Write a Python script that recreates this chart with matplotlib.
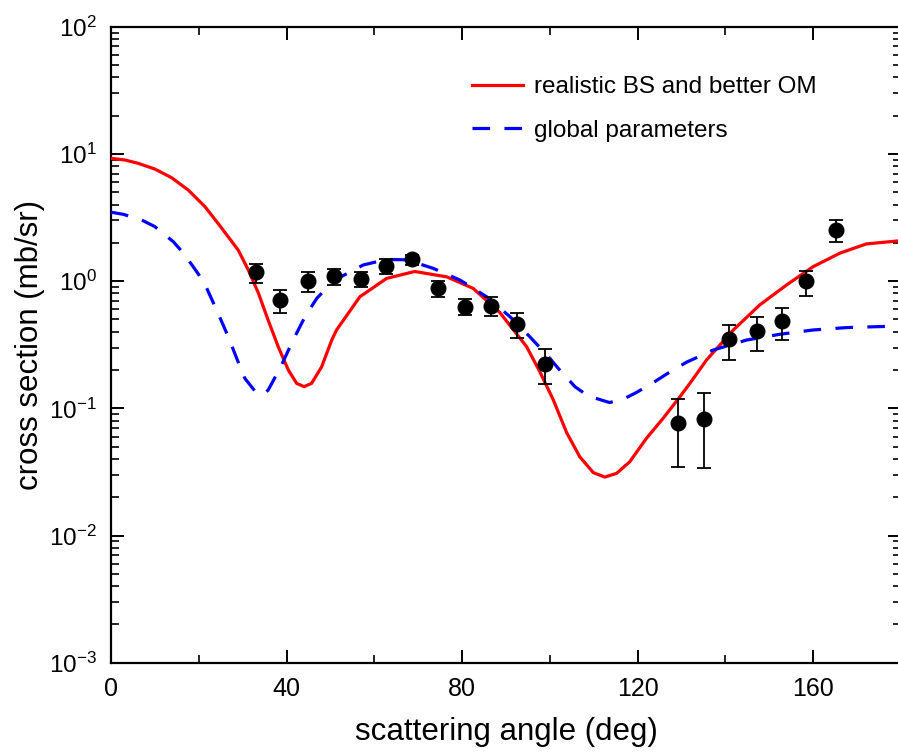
import matplotlib
matplotlib.use("Agg")
import matplotlib.pyplot as plt
from matplotlib.ticker import LogLocator, MultipleLocator, LogFormatterMathtext, NullFormatter
import numpy as np

plt.rcParams['font.family'] = ['Liberation Sans', 'DejaVu Sans']
plt.rcParams['mathtext.default'] = 'regular'

# Calculation: realistic bound state + improved optical model
red_angle = [0, 3.2, 6.2, 10.0, 13.8, 17.6, 21.4, 24.4, 26.7, 29.0, 31.3, 33.6,
             35.8, 38.1, 40.4, 42.3, 44.0, 45.7, 48.0, 50.3, 51.4, 56.7, 62.8,
             69.2, 76.5, 82.5, 88.6, 94.7, 97.7, 100.8, 103.8, 106.8, 109.9,
             112.5, 115.2, 118.2, 122.0, 125.8, 129.6, 131.9, 135.7, 141.8,
             147.8, 153.9, 160.0, 166.1, 172.1, 180.0]
red_xs = [9.23, 8.95, 8.43, 7.60, 6.50, 5.20, 3.85, 2.84, 2.23, 1.75, 1.22,
          0.802, 0.494, 0.305, 0.200, 0.157, 0.148, 0.157, 0.212, 0.344, 0.413,
          0.753, 1.05, 1.19, 1.08, 0.877, 0.566, 0.305, 0.194, 0.116, 0.0646,
          0.0416, 0.0312, 0.0288, 0.0308, 0.0380, 0.0581, 0.0834, 0.123, 0.157,
          0.240, 0.413, 0.649, 0.931, 1.30, 1.66, 1.96, 2.08]

# Calculation: global parameters
blue_angle = [0, 2.8, 7.0, 10.0, 14.2, 16.5, 19.5, 21.3, 24.4, 26.7, 27.9, 29.4,
              30.5, 33.2, 34.7, 35.8, 38.5, 41.5, 44.2, 46.9, 48.7, 51.0, 57.5,
              62.8, 67.4, 73.4, 79.5, 85.6, 90.9, 95.4, 100.0, 101.9, 105.7,
              108.7, 113.6, 116.7, 119.7, 123.9, 126.6, 131.1, 137.2, 144.8,
              152.4, 160.0, 167.6, 175.2, 180.0]
blue_xs = [3.48, 3.35, 3.02, 2.68, 2.04, 1.66, 1.19, 0.962, 0.558, 0.366, 0.287,
           0.212, 0.172, 0.131, 0.129, 0.139, 0.206, 0.344, 0.525, 0.733, 0.851,
           1.02, 1.34, 1.48, 1.47, 1.26, 1.02, 0.753, 0.525, 0.366, 0.247,
           0.206, 0.148, 0.125, 0.111, 0.118, 0.133, 0.162, 0.186, 0.230,
           0.287, 0.344, 0.382, 0.413, 0.431, 0.439, 0.442]

# Measured cross sections with error bar limits
exp_angle = [33.0, 38.5, 44.9, 50.9, 56.9, 62.6, 68.6, 74.5, 80.6, 86.5, 92.4,
             98.9, 129.2, 135.2, 140.8, 147.1, 152.8, 158.4, 165.1]
exp_xs = [1.17, 0.706, 1.007, 1.09, 1.04, 1.31, 1.49, 0.878, 0.63, 0.64, 0.457,
          0.222, 0.077, 0.083, 0.349, 0.405, 0.489, 0.996, 2.54]
exp_hi = [1.36, 0.85, 1.185, 1.24, 1.185, 1.48, 1.60, 1.00, 0.72, 0.746, 0.56,
          0.29, 0.118, 0.133, 0.45, 0.52, 0.62, 1.20, 3.02]
exp_lo = [0.97, 0.558, 0.825, 0.93, 0.90, 1.13, 1.34, 0.754, 0.54, 0.53, 0.36,
          0.154, 0.0346, 0.0338, 0.24, 0.284, 0.345, 0.77, 2.04]

fig = plt.figure(figsize=(8.98, 7.52), dpi=100)
ax = fig.add_axes([111 / 898, 1 - 662.7 / 752, 790 / 898, 636 / 752])

ax.plot(red_angle, red_xs, color='#ff0000', lw=2.3, solid_joinstyle='round',
        label='realistic BS and better OM', zorder=3)
ax.plot(blue_angle, blue_xs, color='#0000ff', lw=2.3, dashes=(5.5, 4.5),
        label='global parameters', zorder=3)

yerr = [np.array(exp_xs) - np.array(exp_lo), np.array(exp_hi) - np.array(exp_xs)]
ax.errorbar(exp_angle, exp_xs, yerr=yerr, fmt='o', color='black', ms=10.5,
            elinewidth=1.3, capsize=4.8, capthick=1.3, zorder=4)

ax.set_yscale('log')
ax.set_xlim(0, 180)
ax.set_ylim(1e-3, 1e2)

ax.xaxis.set_major_locator(MultipleLocator(40))
ax.xaxis.set_minor_locator(MultipleLocator(20))
ax.yaxis.set_major_locator(LogLocator(base=10, numticks=10))
ax.yaxis.set_minor_locator(LogLocator(base=10, subs=np.arange(2, 10), numticks=20))
ax.yaxis.set_major_formatter(LogFormatterMathtext())
ax.yaxis.set_minor_formatter(NullFormatter())

ax.tick_params(which='both', direction='in', top=True, right=True, pad=10)
ax.tick_params(axis='x', labelsize=18)
ax.tick_params(axis='y', labelsize=17.5)
ax.tick_params(which='major', length=9.5, width=1.4)
ax.tick_params(which='minor', length=5.5, width=1.2)
for s in ax.spines.values():
    s.set_linewidth(1.6)

ax.set_xlabel('scattering angle (deg)', fontsize=22.5, labelpad=12)
ax.set_ylabel('cross section (mb/sr)', fontsize=22.5, labelpad=3)

ax.legend(loc='upper left', bbox_to_anchor=(472 / 898, 1 - 76 / 752),
          bbox_transform=fig.transFigure, frameon=False, fontsize=17.5,
          handlelength=2.1, handletextpad=0.45, labelspacing=0.9,
          borderpad=0, borderaxespad=0)

fig.savefig('out.png', dpi=100)
